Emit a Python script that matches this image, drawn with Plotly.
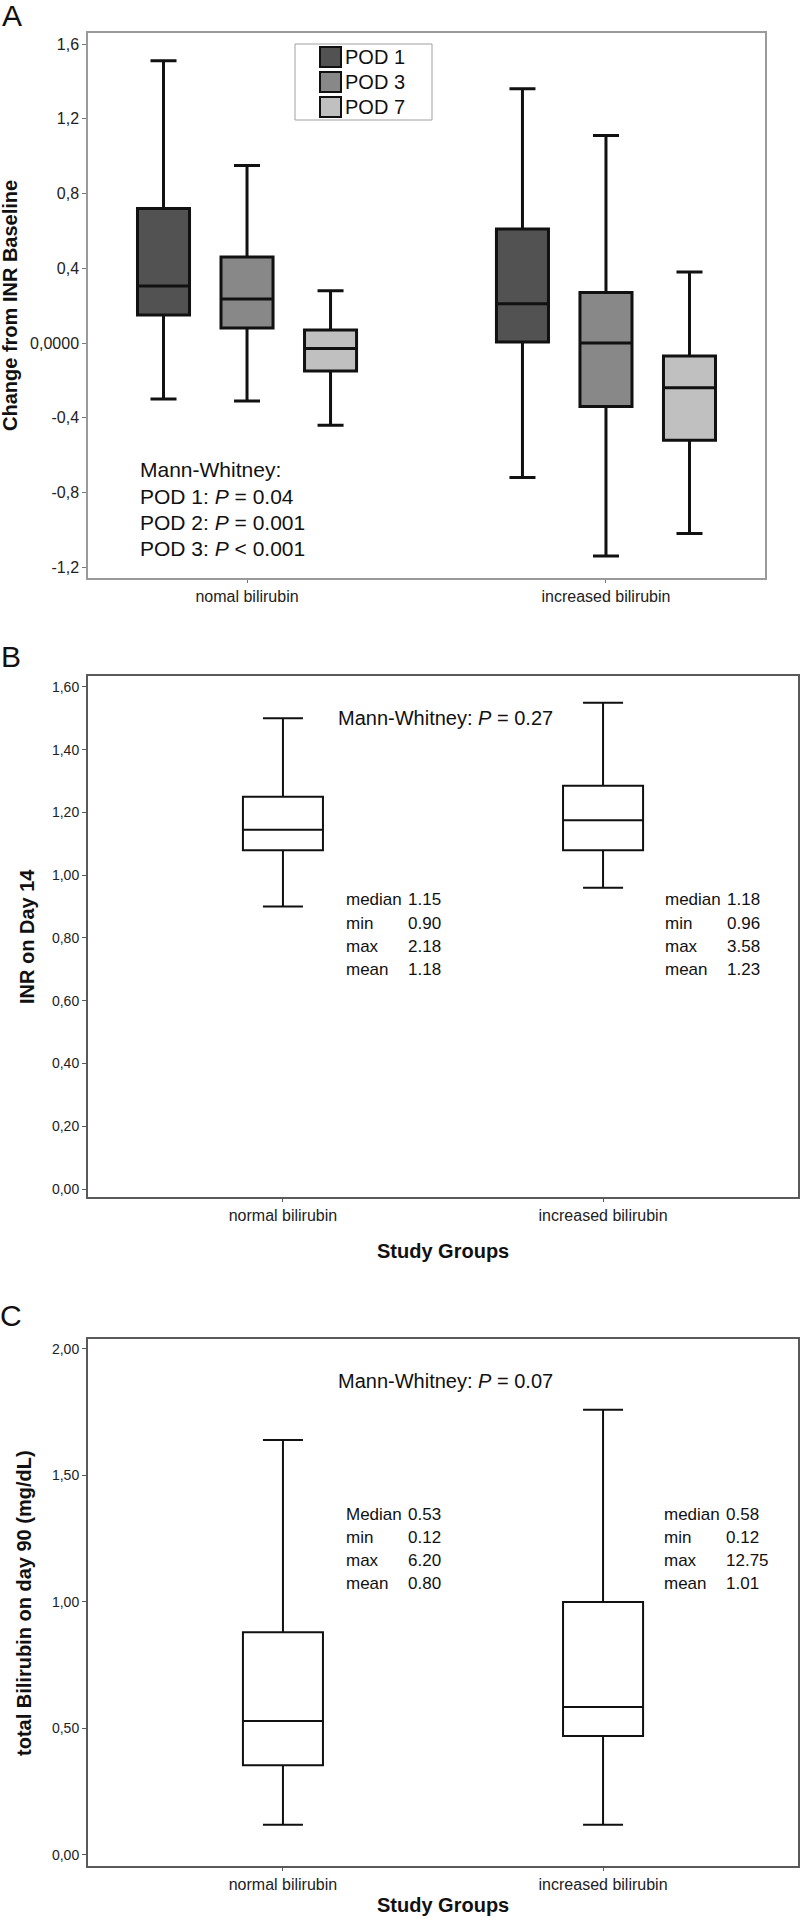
import plotly.graph_objects as go

W, H = 800, 1919
FONT = "Liberation Sans, Arial, sans-serif"

# ---------------- Panel A data ----------------
groups_a = ["nomal bilirubin", "increased bilirubin"]
pod_names = ["POD 1", "POD 3", "POD 7"]
pod_colors = ["#525252", "#888888", "#c0c0c0"]
a_upper = [[1.51, 1.36], [0.95, 1.11], [0.28, 0.38]]
a_q3 = [[0.72, 0.61], [0.46, 0.27], [0.07, -0.07]]
a_median = [[0.305, 0.21], [0.235, 0.0], [-0.03, -0.24]]
a_q1 = [[0.15, 0.005], [0.08, -0.34], [-0.15, -0.52]]
a_lower = [[-0.30, -0.72], [-0.31, -1.14], [-0.44, -1.02]]
a_yticks = [1.6, 1.2, 0.8, 0.4, 0.0, -0.4, -0.8, -1.2]
a_yticklabels = ["1,6", "1,2", "0,8", "0,4", "0,0000", "-0,4", "-0,8", "-1,2"]
a_ytitle = "Change from INR Baseline"
a_notes = ["Mann-Whitney:", "POD 1: <i>P</i> = 0.04", "POD 2: <i>P</i> = 0.001",
           "POD 3: <i>P</i> &lt; 0.001"]

# ---------------- Panel B data ----------------
groups_b = ["normal bilirubin", "increased bilirubin"]
b_upper = [1.50, 1.55]
b_q3 = [1.25, 1.285]
b_median = [1.145, 1.175]
b_q1 = [1.08, 1.08]
b_lower = [0.90, 0.96]
b_yticks = [0.0, 0.2, 0.4, 0.6, 0.8, 1.0, 1.2, 1.4, 1.6]
b_yticklabels = ["0,00", "0,20", "0,40", "0,60", "0,80", "1,00", "1,20", "1,40", "1,60"]
b_ytitle = "INR on Day 14"
b_note = "Mann-Whitney: <i>P</i> = 0.27"
b_stat_labels = [["median", "min", "max", "mean"], ["median", "min", "max", "mean"]]
b_stat_values = [["1.15", "0.90", "2.18", "1.18"], ["1.18", "0.96", "3.58", "1.23"]]

# ---------------- Panel C data ----------------
groups_c = ["normal bilirubin", "increased bilirubin"]
c_upper = [1.64, 1.76]
c_q3 = [0.88, 1.00]
c_median = [0.53, 0.585]
c_q1 = [0.355, 0.47]
c_lower = [0.12, 0.12]
c_yticks = [0.0, 0.5, 1.0, 1.5, 2.0]
c_yticklabels = ["0,00", "0,50", "1,00", "1,50", "2,00"]
c_ytitle = "total Bilirubin on day 90 (mg/dL)"
c_note = "Mann-Whitney: <i>P</i> = 0.07"
c_stat_labels = [["Median", "min", "max", "mean"], ["median", "min", "max", "mean"]]
c_stat_values = [["0.53", "0.12", "6.20", "0.80"], ["0.58", "0.12", "12.75", "1.01"]]

xtitle = "Study Groups"
panel_letters = ["A", "B", "C"]


def px(x):
    return x / W


def py(y):
    return 1 - y / H


fig = go.Figure()

# Panel A boxes (grouped)
for i, name in enumerate(pod_names):
    fig.add_trace(go.Box(
        name=name, x=groups_a,
        q1=a_q1[i], median=a_median[i], q3=a_q3[i],
        lowerfence=a_lower[i], upperfence=a_upper[i],
        fillcolor=pod_colors[i], line=dict(color="#111111", width=3),
        whiskerwidth=0.5, offsetgroup=str(i), alignmentgroup="A",
        xaxis="x", yaxis="y", showlegend=False, hoverinfo="skip",
        boxpoints=False,
    ))

# Panel B boxes
fig.add_trace(go.Box(
    name="B", x=groups_b, q1=b_q1, median=b_median, q3=b_q3,
    lowerfence=b_lower, upperfence=b_upper,
    fillcolor="white", line=dict(color="#111111", width=2),
    whiskerwidth=0.5, width=0.25, xaxis="x2", yaxis="y2",
    showlegend=False, hoverinfo="skip", boxpoints=False,
))

# Panel C boxes
fig.add_trace(go.Box(
    name="C", x=groups_c, q1=c_q1, median=c_median, q3=c_q3,
    lowerfence=c_lower, upperfence=c_upper,
    fillcolor="white", line=dict(color="#111111", width=2),
    whiskerwidth=0.5, width=0.25, xaxis="x3", yaxis="y3",
    showlegend=False, hoverinfo="skip", boxpoints=False,
))

tickfont_a = dict(family=FONT, size=16, color="#222222")
tickfont_bc = dict(family=FONT, size=14, color="#222222")

common_x = dict(showline=True, mirror=True, ticks="outside", ticklen=3,
                showgrid=False, zeroline=False, type="category", fixedrange=True)
common_y = dict(showline=True, mirror=True, ticks="outside", ticklen=4,
                showgrid=False, zeroline=False, fixedrange=True)

fig.update_layout(
    width=W, height=H,
    margin=dict(l=0, r=0, t=0, b=0),
    paper_bgcolor="white", plot_bgcolor="white",
    boxmode="group", boxgap=0.302, boxgroupgap=0.377,
    showlegend=False,
    font=dict(family=FONT, color="#111111"),
    xaxis=dict(domain=[px(88), px(765)], range=[-0.443, 1.443], anchor="y",
               linecolor="#9a9a9a", linewidth=1.5, tickcolor="#777777",
               tickfont=tickfont_a, categoryorder="array", categoryarray=groups_a,
               **common_x),
    yaxis=dict(domain=[py(578), py(33)], range=[-1.2575, 1.659], anchor="x",
               linecolor="#9a9a9a", linewidth=1.5, tickcolor="#777777",
               tickvals=a_yticks, ticktext=a_yticklabels, tickfont=tickfont_a,
               **common_y),
    xaxis2=dict(domain=[px(88), px(798)], range=[-0.609, 1.609], anchor="y2",
                linecolor="#5a5a5a", linewidth=2, tickcolor="#5a5a5a",
                tickfont=tickfont_a, categoryorder="array", categoryarray=groups_b,
                **common_x),
    yaxis2=dict(domain=[py(1197), py(676)], range=[-0.0255, 1.635], anchor="x2",
                linecolor="#5a5a5a", linewidth=2, tickcolor="#5a5a5a",
                tickvals=b_yticks, ticktext=b_yticklabels, tickfont=tickfont_bc,
                **common_y),
    xaxis3=dict(domain=[px(88), px(798)], range=[-0.609, 1.609], anchor="y3",
                linecolor="#5a5a5a", linewidth=2, tickcolor="#5a5a5a",
                tickfont=tickfont_a, categoryorder="array", categoryarray=groups_c,
                **common_x),
    yaxis3=dict(domain=[py(1866), py(1339)], range=[-0.0435, 2.0395], anchor="x3",
                linecolor="#5a5a5a", linewidth=2, tickcolor="#5a5a5a",
                tickvals=c_yticks, ticktext=c_yticklabels, tickfont=tickfont_bc,
                **common_y),
)

ann = []
shapes = []


def text(x, y, s, size, xanchor="left", bold=False, angle=0, color="#111111"):
    ann.append(dict(
        x=px(x), y=py(y), xref="paper", yref="paper", text=s, showarrow=False,
        xanchor=xanchor, yanchor="middle", textangle=angle,
        font=dict(family=FONT, size=size, color=color,
                  weight="bold" if bold else "normal"),
    ))


# Panel letters
for letter, (lx, ly) in zip(panel_letters, [(12, 16), (11, 656), (11, 1315)]):
    text(lx, ly, letter, 30, xanchor="center")

# Y-axis titles
text(10, 306, a_ytitle, 20, xanchor="center", bold=True, angle=-90)
text(27, 937, b_ytitle, 20, xanchor="center", bold=True, angle=-90)
text(24, 1603, c_ytitle, 20, xanchor="center", bold=True, angle=-90)

# X-axis titles
text(443, 1251, xtitle, 20, xanchor="center", bold=True)
text(443, 1905, xtitle, 20, xanchor="center", bold=True)

# Panel A notes
for k, line in enumerate(a_notes):
    text(138, 470 + 26.3 * k, line, 21)

# Panel A legend
shapes.append(dict(type="rect", xref="paper", yref="paper",
                   x0=px(295), x1=px(432), y0=py(120), y1=py(44),
                   line=dict(color="#a0a0a0", width=1), fillcolor="white", layer="above"))
for k, (name, col) in enumerate(zip(pod_names, pod_colors)):
    cy = 57 + 25 * k
    shapes.append(dict(type="rect", xref="paper", yref="paper",
                       x0=px(320), x1=px(341), y0=py(cy + 10), y1=py(cy - 10),
                       line=dict(color="#111111", width=2), fillcolor=col, layer="above"))
    text(343, cy, name, 20)

# Panel B notes and stats
text(336, 718, b_note, 20)
for g, (lx, vx) in enumerate([(344, 406), (663, 725)]):
    for k in range(4):
        text(lx, 900 + 23.3 * k, b_stat_labels[g][k], 17)
        text(vx, 900 + 23.3 * k, b_stat_values[g][k], 17)

# Panel C notes and stats
text(336, 1381, c_note, 20)
for g, (lx, vx) in enumerate([(344, 406), (662, 724)]):
    for k in range(4):
        text(lx, 1514 + 23.3 * k, c_stat_labels[g][k], 17)
        text(vx, 1514 + 23.3 * k, c_stat_values[g][k], 17)

fig.update_layout(annotations=ann, shapes=shapes)

fig.write_html(
    "out.html",
    config={"displayModeBar": False},
    post_script="document.body.style.margin='0';document.body.style.overflow='hidden';",
)
